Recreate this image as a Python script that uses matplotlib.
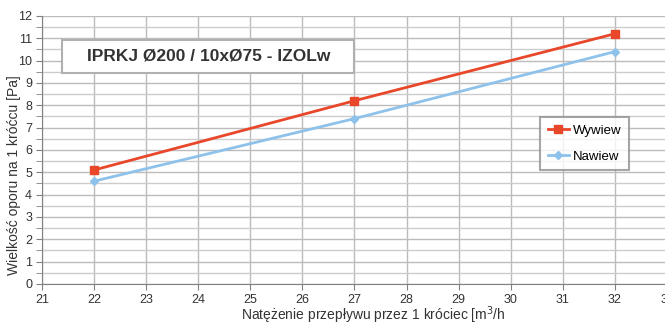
import matplotlib.pyplot as plt
from matplotlib.ticker import MultipleLocator
from matplotlib.patches import Rectangle

plt.rcParams['font.family'] = ['Liberation Sans', 'DejaVu Sans']

# data
flow = [22, 27, 32]
wywiew = [5.1, 8.2, 11.2]
nawiew = [4.6, 7.4, 10.4]

title_text = 'IPRKJ Ø200 / 10xØ75 - IZOLw'
x_label = 'Natężenie przepływu przez 1 króciec [m$^3$/h'
y_label = 'Wielkość oporu na 1 króćcu [Pa]'

fig = plt.figure(figsize=(6.65, 3.27), dpi=100)
ax = fig.add_axes([0.063, 0.1315, 0.94, 0.82])

ax.plot(flow, wywiew, color='#e8472a', linewidth=2, marker='s', markersize=6, label='Wywiew')
ax.plot(flow, nawiew, color='#8ec2ea', linewidth=2, marker='D', markersize=4, label='Nawiew')

ax.set_xlim(21, 33)
ax.set_ylim(0, 12)
ax.xaxis.set_major_locator(MultipleLocator(1))
ax.yaxis.set_major_locator(MultipleLocator(1))
ax.yaxis.set_minor_locator(MultipleLocator(0.5))
ax.grid(True, which='major', color='#bcbcbc', linewidth=1)
ax.grid(True, which='minor', axis='y', color='#cccccc', linewidth=1)
ax.set_axisbelow(True)
ax.tick_params(which='major', length=4, color='#808080', labelsize=9, labelcolor='#333333', pad=3)
ax.tick_params(which='minor', axis='y', length=4, color='#808080')
for s in ['top', 'right']:
    ax.spines[s].set_visible(False)
for s in ['left', 'bottom']:
    ax.spines[s].set_color('#808080')

fig.text(0.561, 0.02, x_label, fontsize=10, color='#333333', ha='center', va='baseline')
fig.text(0.021, 0.465, y_label, fontsize=10, color='#333333', ha='center', va='center', rotation=90)

# title box
ax.add_patch(Rectangle((21.38, 9.44), 5.62, 1.48, facecolor='white', edgecolor='#b0b0b0',
                       linewidth=1.5, zorder=4))
ax.text(24.21, 10.19, title_text, fontsize=12.5, fontweight='bold', color='#333333',
        ha='center', va='center', zorder=5)

leg = ax.legend(loc='upper left', bbox_to_anchor=(0.7965, 0.623), fontsize=9.5, frameon=True,
                fancybox=False, edgecolor='#909090', borderpad=0.6, labelspacing=1.0,
                handlelength=1.6, handletextpad=0.3, borderaxespad=0)
leg.get_frame().set_linewidth(1.5)

plt.savefig('out.png', dpi=100)
